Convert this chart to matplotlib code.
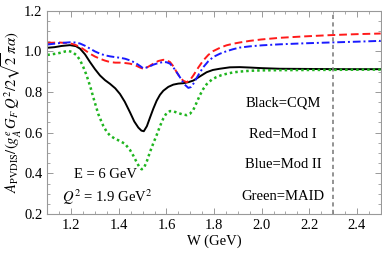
import matplotlib
matplotlib.use("Agg")
import matplotlib.pyplot as plt
from matplotlib.ticker import MultipleLocator

plt.rcParams["font.family"] = "Liberation Serif"
plt.rcParams["mathtext.fontset"] = "stix"

# CQM (black)
w_cqm = [1.10, 1.13, 1.16, 1.195, 1.22, 1.237, 1.258, 1.279, 1.30, 1.321, 1.342, 1.363,
         1.385, 1.405, 1.425, 1.447, 1.465, 1.482, 1.495, 1.505, 1.518, 1.531, 1.545,
         1.559, 1.573, 1.587, 1.608, 1.629, 1.65, 1.671, 1.692, 1.713, 1.74, 1.769,
         1.795, 1.824, 1.866, 1.908, 1.95, 2.0, 2.076, 2.2, 2.35, 2.5]
a_cqm = [1.017, 1.020, 1.026, 1.030, 1.025, 1.013, 0.985, 0.947, 0.912, 0.881, 0.858, 0.840,
         0.818, 0.790, 0.752, 0.700, 0.655, 0.625, 0.610, 0.607, 0.632, 0.674, 0.718,
         0.757, 0.786, 0.806, 0.825, 0.836, 0.841, 0.843, 0.848, 0.856, 0.876, 0.897,
         0.908, 0.914, 0.921, 0.922, 0.920, 0.917, 0.914, 0.913, 0.912, 0.912]

# Mod I (red)
w_mod1 = [1.10, 1.15, 1.195, 1.216, 1.237, 1.258, 1.279, 1.30, 1.321, 1.342, 1.363, 1.385,
          1.405, 1.427, 1.447, 1.468, 1.489, 1.503, 1.524, 1.545, 1.566, 1.587, 1.60,
          1.615, 1.63, 1.643, 1.657, 1.671, 1.685, 1.699, 1.713, 1.734, 1.755, 1.776,
          1.797, 1.825, 1.852, 1.88, 1.908, 1.95, 2.0, 2.076, 2.18, 2.286, 2.4, 2.5]
a_mod1 = [1.041, 1.043, 1.039, 1.032, 1.021, 1.005, 0.988, 0.974, 0.963, 0.954, 0.947, 0.944,
          0.944, 0.942, 0.939, 0.932, 0.920, 0.914, 0.924, 0.939, 0.952, 0.958, 0.956,
          0.947, 0.925, 0.897, 0.872, 0.855, 0.848, 0.858, 0.881, 0.920, 0.955, 0.982,
          1.001, 1.017, 1.029, 1.037, 1.043, 1.051, 1.058, 1.066, 1.073, 1.079, 1.084, 1.087]

# Mod II (blue)
w_mod2 = [1.10, 1.15, 1.195, 1.216, 1.237, 1.258, 1.279, 1.30, 1.321, 1.342, 1.363, 1.385,
          1.405, 1.427, 1.447, 1.468, 1.489, 1.503, 1.524, 1.545, 1.566, 1.587, 1.60,
          1.615, 1.636, 1.657, 1.675, 1.692, 1.703, 1.713, 1.734, 1.755, 1.776, 1.797,
          1.825, 1.852, 1.88, 1.908, 1.95, 2.0, 2.076, 2.18, 2.286, 2.4, 2.5]
a_mod2 = [1.033, 1.040, 1.044, 1.043, 1.038, 1.027, 1.013, 0.999, 0.988, 0.980, 0.975, 0.971,
          0.968, 0.963, 0.955, 0.944, 0.928, 0.916, 0.922, 0.934, 0.942, 0.947, 0.946,
          0.939, 0.910, 0.872, 0.838, 0.820, 0.824, 0.840, 0.883, 0.922, 0.951, 0.972,
          0.988, 1.000, 1.010, 1.018, 1.024, 1.029, 1.034, 1.039, 1.043, 1.047, 1.051]

# MAID (green)
w_maid = [1.10, 1.13, 1.153, 1.175, 1.19, 1.205, 1.223, 1.237, 1.251, 1.262, 1.272, 1.283,
          1.293, 1.304, 1.314, 1.325, 1.335, 1.349, 1.363, 1.384, 1.405, 1.426, 1.447,
          1.462, 1.475, 1.487, 1.496, 1.505, 1.518, 1.531, 1.545, 1.559, 1.573, 1.587,
          1.60, 1.615, 1.629, 1.643, 1.664, 1.685, 1.699, 1.713, 1.727, 1.741, 1.755,
          1.769, 1.79, 1.81, 1.83, 1.852, 1.88, 1.908, 1.95, 2.0, 2.076, 2.2, 2.35, 2.5]
a_maid = [0.982, 0.987, 0.992, 0.999, 1.001, 0.996, 0.980, 0.957, 0.922, 0.890, 0.856, 0.815,
          0.773, 0.730, 0.691, 0.660, 0.633, 0.605, 0.586, 0.570, 0.559, 0.545, 0.515,
          0.485, 0.455, 0.430, 0.420, 0.425, 0.460, 0.505, 0.548, 0.588, 0.632, 0.670,
          0.695, 0.706, 0.705, 0.699, 0.691, 0.686, 0.693, 0.712, 0.748, 0.785, 0.815,
          0.838, 0.860, 0.873, 0.882, 0.889, 0.896, 0.900, 0.904, 0.906, 0.907, 0.908, 0.909, 0.910]

fig = plt.figure(figsize=(3.82, 2.57), dpi=100)
ax = fig.add_axes([0.124, 0.167, 0.8726, 0.792])

ax.plot(w_cqm, a_cqm, color="black", lw=1.4, solid_joinstyle="round")
ax.plot(w_mod1, a_mod1, color="#ff1a1a", lw=1.4, ls=(0, (4, 2)))
ax.plot(w_mod2, a_mod2, color="#1a1aff", lw=1.4, ls=(0, (4, 1.5, 1, 1.5)))
ax.plot(w_maid, a_maid, color="#1fb51f", lw=1.8, ls=(0, (1, 1.2)))
ax.axvline(2.3, color="#808080", lw=1.2, ls=(0, (2.5, 2)))

ax.set_xlim(1.1, 2.5)
ax.set_ylim(0.2, 1.2)
ax.xaxis.set_major_locator(MultipleLocator(0.2))
ax.xaxis.set_minor_locator(MultipleLocator(0.05))
ax.yaxis.set_major_locator(MultipleLocator(0.2))
ax.yaxis.set_minor_locator(MultipleLocator(0.05))
ax.tick_params(which="both", direction="in", top=True, right=True,
               color="#999999", labelsize=10.5)
ax.tick_params(which="major", length=4, width=0.7)
ax.tick_params(which="minor", length=2, width=0.6)
for s in ax.spines.values():
    s.set_color("#999999")
    s.set_linewidth(0.8)

ax.set_xlabel("W (GeV)", fontsize=10.5, labelpad=2)
ax.set_ylabel(r"$A_{\rm PVDIS}/(g_A^e\, G_F\, Q^2/2\sqrt{2}\,\pi\alpha)$",
              fontsize=10.5, labelpad=0)

ax.text(1.346, 0.395, "E = 6 GeV", ha="center", va="center", fontsize=10.5)
ax.text(1.35, 0.282, r"$Q^2$ = 1.9 GeV$^2$", ha="center", va="center", fontsize=10.5)
ax.text(2.09, 0.747, "Black=CQM", ha="center", va="center", fontsize=10.5)
ax.text(2.09, 0.593, "Red=Mod I", ha="center", va="center", fontsize=10.5)
ax.text(2.09, 0.445, "Blue=Mod II", ha="center", va="center", fontsize=10.5)
ax.text(2.09, 0.287, "Green=MAID", ha="center", va="center", fontsize=10.5)

fig.savefig("out.png", dpi=100)
